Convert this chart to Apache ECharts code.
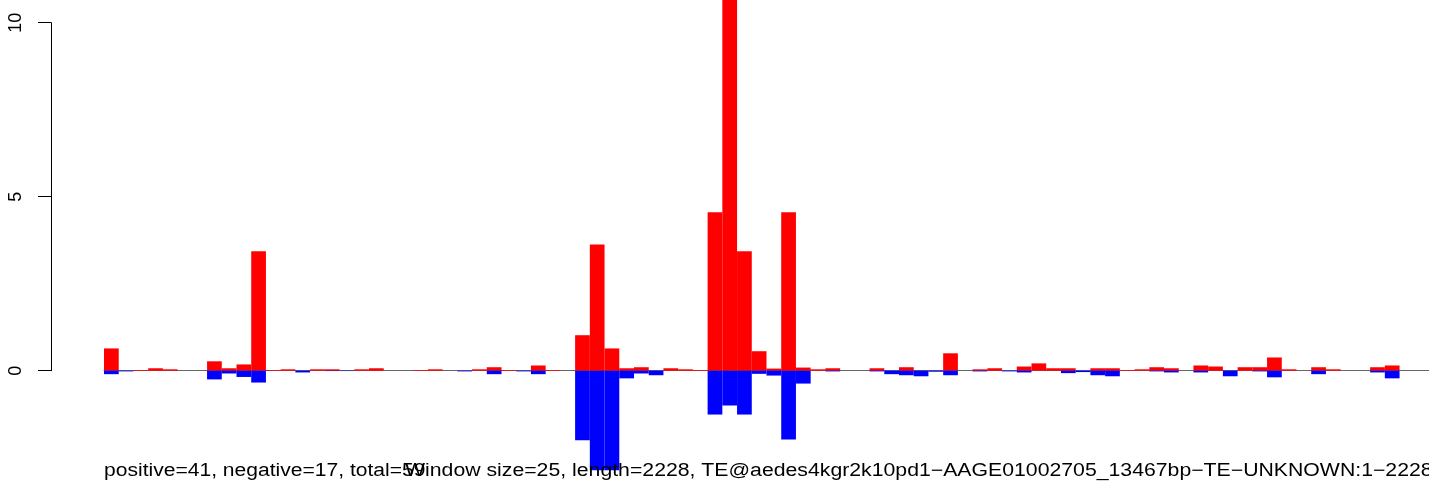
<!DOCTYPE html>
<html>
<head>
<meta charset="utf-8">
<script src="https://cdn.jsdelivr.net/npm/echarts@6/dist/echarts.min.js"></script>
<style>
html,body{margin:0;padding:0;background:#fff;}
#chart{width:1429px;height:487px;}
</style>
</head>
<body>
<div id="chart"></div>
<script>
// window index (window size 25 over length 2228)
const windows = Array.from({length: 90}, (_, i) => String(i + 1));
// positive strand values per window
const positiveValues = [
  0.64, 0, 0.02, 0.07, 0.04, 0, 0, 0.27, 0.07, 0.18,
  3.43, 0.02, 0.04, 0, 0.04, 0.04, 0, 0.04, 0.07, 0,
  0, 0.02, 0.04, 0, 0, 0.04, 0.10, 0.02, 0, 0.15,
  0.02, 0, 1.02, 3.63, 0.64, 0.07, 0.10, 0, 0.07, 0.04,
  0.02, 4.55, 11.0, 3.43, 0.56, 0.06, 4.55, 0.09, 0.04, 0.07,
  0, 0, 0.07, 0, 0.10, 0, 0, 0.50, 0, 0.04,
  0.07, 0, 0.12, 0.21, 0.07, 0.07, 0, 0.07, 0.07, 0.02,
  0.04, 0.10, 0.07, 0, 0.15, 0.12, 0, 0.10, 0.10, 0.38,
  0.04, 0, 0.10, 0.04, 0, 0, 0.10, 0.15, 0, 0
];
// negative strand values per window
const negativeValues = [
  -0.10, -0.02, 0, 0, 0, 0, 0, -0.25, -0.08, -0.18,
  -0.34, 0, 0, -0.05, 0, -0.01, -0.01, 0, 0, 0,
  0, 0, 0, 0, -0.02, 0, -0.10, 0, -0.02, -0.10,
  0, 0, -2.00, -2.86, -2.86, -0.22, -0.08, -0.13, 0, 0,
  0, -1.26, -1.00, -1.26, -0.09, -0.14, -1.98, -0.37, 0, -0.02,
  0, 0, -0.02, -0.10, -0.13, -0.16, -0.03, -0.13, 0, -0.02,
  0, -0.02, -0.05, 0, 0, -0.07, -0.04, -0.13, -0.16, 0,
  0, -0.02, -0.05, 0, -0.05, 0, -0.16, 0, -0.02, -0.19,
  0, 0, -0.10, 0, 0, 0, -0.05, -0.22, 0, 0
];
// y axis tick labels
const yTicks = [0, 5, 10];
const leftText = 'positive=41, negative=17, total=59';
const titleText = 'Window size=25, length=2228, TE@aedes4kgr2k10pd1\u2212AAGE01002705_13467bp\u2212TE\u2212UNKNOWN:1\u22122228';

const FONT = '"Liberation Sans", Arial, Helvetica, sans-serif';
const chart = echarts.init(document.getElementById('chart'), null, {renderer: 'canvas'});
const pxPerUnit = 34.8;
const zeroY = 370.7;
chart.setOption({
  animation: false,
  backgroundColor: '#ffffff',
  grid: [
    {left: 104, top: 0, height: 487, width: 14.76 * windows.length},
    {left: 51, top: zeroY - 10 * pxPerUnit, height: 10 * pxPerUnit, width: 1}
  ],
  xAxis: [
    {type: 'category', gridIndex: 0, data: windows, boundaryGap: true,
     axisLine: {show: true, onZero: true, lineStyle: {color: '#666666', width: 1}},
     axisTick: {show: false}, axisLabel: {show: false}, splitLine: {show: false}},
    {type: 'value', gridIndex: 1, show: false}
  ],
  yAxis: [
    {type: 'value', gridIndex: 0, min: -(487 - zeroY) / pxPerUnit, max: zeroY / pxPerUnit, show: false, splitLine: {show: false}},
    {type: 'value', gridIndex: 1, min: yTicks[0], max: yTicks[yTicks.length - 1], interval: 5,
     axisLine: {show: true, lineStyle: {color: '#000', width: 1}},
     axisTick: {show: true, length: 13, lineStyle: {color: '#000', width: 1}},
     axisLabel: {show: true, rotate: 90, margin: 26, fontSize: 18, color: '#000', fontFamily: FONT,
                 formatter: v => yTicks.includes(v) ? String(v) : ''},
     splitLine: {show: false}}
  ],
  graphic: [
    {type: 'text', x: 104, y: 462, scaleX: 1.17, z: 100, style: {text: leftText, font: '18px ' + FONT, fill: '#000'}},
    {type: 'text', x: 405, y: 462, scaleX: 1.18, z: 100, style: {text: titleText, font: '18px ' + FONT, fill: '#000'}}
  ],
  series: [
    {type: 'bar', name: 'positive', xAxisIndex: 0, yAxisIndex: 0, data: positiveValues,
     barWidth: '100%', barGap: '-100%', itemStyle: {color: '#ff0000'}},
    {type: 'bar', name: 'negative', xAxisIndex: 0, yAxisIndex: 0, data: negativeValues,
     barWidth: '100%', barGap: '-100%', itemStyle: {color: '#0000ff'}}
  ]
});
</script>
</body>
</html>
